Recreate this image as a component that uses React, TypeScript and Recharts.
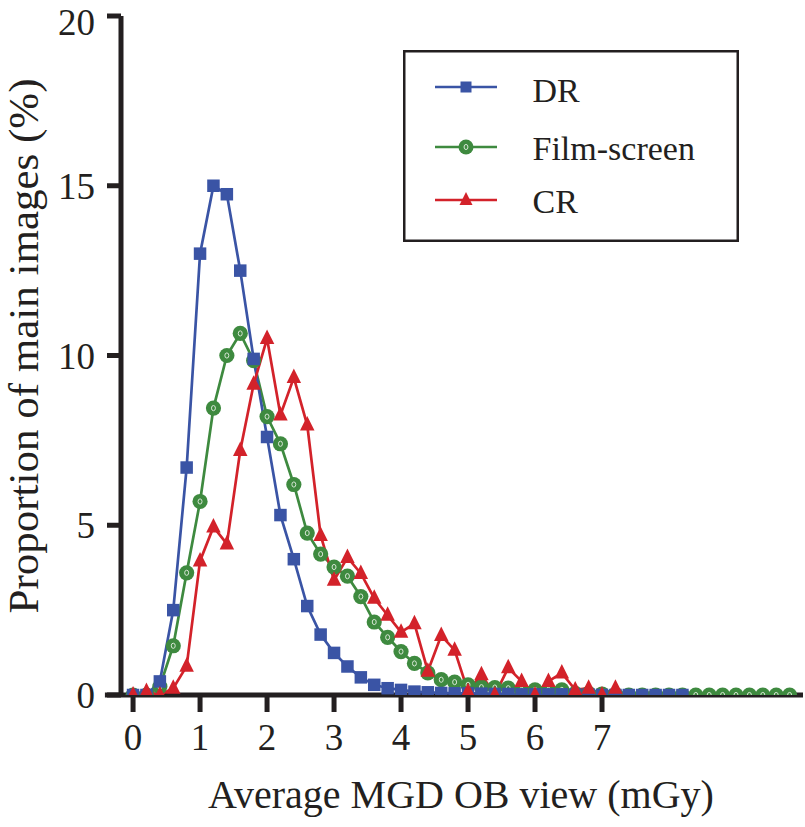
import React from 'react';
import { LineChart, Line, XAxis, YAxis, ReferenceLine, Legend } from 'recharts';

const doseValues = [
  0, 0.2, 0.4, 0.6, 0.8, 1.0, 1.2, 1.4, 1.6, 1.8,
  2.0, 2.2, 2.4, 2.6, 2.8, 3.0, 3.2, 3.4, 3.6, 3.8,
  4.0, 4.2, 4.4, 4.6, 4.8, 5.0, 5.2, 5.4, 5.6, 5.8,
  6.0, 6.2, 6.4, 6.6, 6.8, 7.0, 7.2, 7.4, 7.6, 7.8,
  8.0, 8.2, 8.4, 8.6, 8.8, 9.0, 9.2, 9.4, 9.6, 9.8,
];

const drValues = [
  0, 0, 0.4, 2.5, 6.7, 13.0, 15.0, 14.75, 12.5, 9.9,
  7.6, 5.3, 4.0, 2.62, 1.78, 1.24, 0.84, 0.52, 0.3, 0.2,
  0.15, 0.1, 0.08, 0.06, 0.05, 0.05, 0.04, 0.03, 0.03, 0.02,
  0.02, 0.02, 0.02, 0.01, 0.01, 0, 0, 0, 0, 0,
  0, 0, null, null, null, null, null, null, null, null,
];

const filmValues = [
  0, 0, 0.25, 1.45, 3.6, 5.7, 8.45, 10.0, 10.65, 9.85,
  8.2, 7.4, 6.2, 4.77, 4.15, 3.77, 3.5, 2.9, 2.15, 1.7,
  1.28, 0.93, 0.65, 0.45, 0.38, 0.3, 0.23, 0.22, 0.2, 0.15,
  0.15, 0.15, 0.15, 0.05, 0.05, 0.03, 0.02, 0, 0, 0,
  0, 0, 0, 0, 0, 0, 0, 0, 0, 0,
];

const crValues = [
  0, 0.1, 0, 0.2, 0.85, 3.95, 4.95, 4.45, 7.2, 9.15,
  10.5, 8.25, 9.35, 7.95, 4.7, 3.38, 4.05, 3.58, 2.85, 2.35,
  1.85, 2.1, 0.7, 1.75, 1.32, 0.1, 0.6, 0, 0.8, 0.4,
  0, 0.4, 0.65, 0.15, 0.2, 0, 0.2, null, null, null,
  null, null, null, null, null, null, null, null, null, null,
];

const seriesNames = ['DR', 'Film-screen', 'CR'];
const xTicks = [0, 1, 2, 3, 4, 5, 6, 7];
const yTicks = [0, 5, 10, 15, 20];
const xAxisTitle = 'Average MGD OB view (mGy)';
const yAxisTitle = 'Proportion of main images (%)';

const data = doseValues.map((x, i) => ({
  x,
  dr: drValues[i],
  film: filmValues[i],
  cr: crValues[i],
}));

const FONT = "'Liberation Serif', 'Times New Roman', Times, serif";
const INK = '#231f20';
const BLUE = '#3a54a5';
const GREEN = '#3e8a3f';
const RED = '#d3222a';

const squareShape = (cx: number, cy: number, s: number, key?: string) => (
  <rect key={key} x={cx - s / 2} y={cy - s / 2} width={s} height={s} fill={BLUE} />
);
const circleShape = (cx: number, cy: number, r: number, key?: string) => (
  <g key={key}>
    <circle cx={cx} cy={cy} r={r} fill={GREEN} />
    <ellipse cx={cx} cy={cy} rx={r * 0.26} ry={r * 0.34} fill="none" stroke="#d8e6d6" strokeWidth={1} />
  </g>
);
const triangleShape = (cx: number, cy: number, s: number, key?: string) => (
  <polygon
    key={key}
    points={`${cx},${cy - s * 0.62} ${cx - s / 2},${cy + s * 0.38} ${cx + s / 2},${cy + s * 0.38}`}
    fill={RED}
  />
);

const renderSquare = (p: any) => {
  const key = `dr-${p.index}`;
  if (p.cx == null || p.cy == null || p.value == null) return <g key={key} />;
  return squareShape(p.cx, p.cy, 12.5, key);
};
const renderCircle = (p: any) => {
  const key = `film-${p.index}`;
  if (p.cx == null || p.cy == null || p.value == null) return <g key={key} />;
  return circleShape(p.cx, p.cy, 7.6, key);
};
const renderTriangle = (p: any) => {
  const key = `cr-${p.index}`;
  if (p.cx == null || p.cy == null || p.value == null) return <g key={key} />;
  return triangleShape(p.cx, p.cy, 14.5, key);
};

const legendRows = [
  { name: seriesNames[0], color: BLUE, marker: (cx: number, cy: number) => squareShape(cx, cy, 11) },
  { name: seriesNames[1], color: GREEN, marker: (cx: number, cy: number) => circleShape(cx, cy, 7.5) },
  { name: seriesNames[2], color: RED, marker: (cx: number, cy: number) => triangleShape(cx, cy, 13) },
];
const legendMarkerCenters = [37, 97, 150];
const legendBaselines = [52, 110, 163];

const renderLegend = () => (
  <svg width={336} height={192} style={{ display: 'block' }}>
    <rect x={1.25} y={1.25} width={333.5} height={189.5} fill="#fff" stroke={INK} strokeWidth={2.5} />
    {legendRows.map((r, i) => (
      <g key={r.name}>
        <line x1={32} y1={legendMarkerCenters[i]} x2={94} y2={legendMarkerCenters[i]} stroke={r.color} strokeWidth={2.5} />
        {r.marker(63, legendMarkerCenters[i])}
        <text x={129.5} y={legendBaselines[i]} fontSize={34} fontFamily={FONT} fill={INK}>
          {r.name}
        </text>
      </g>
    ))}
  </svg>
);

const renderXTitle = (props: any) => {
  const vb = props.viewBox || { x: 121, y: 695, width: 682, height: 60 };
  return (
    <text x={vb.x + vb.width / 2 - 1} y={808} textAnchor="middle" fontSize={40} fontFamily={FONT} fill={INK}>
      {xAxisTitle}
    </text>
  );
};

const renderYTitle = () => (
  <text
    x={38}
    y={346}
    transform="rotate(-90 38 346)"
    textAnchor="middle"
    fontSize={43}
    fontFamily={FONT}
    fill={INK}
  >
    {yAxisTitle}
  </text>
);

export default function App() {
  return (
    <div style={{ position: 'absolute', left: 0, top: 0, width: 805, height: 827, background: '#fff', fontFamily: FONT }}>
      <LineChart width={805} height={827} data={data} margin={{ top: 16, right: 2, bottom: 72, left: 21 }}>
        <ReferenceLine
          segment={[{ x: -0.42, y: 0 }, { x: 10, y: 0 }]}
          stroke={INK}
          strokeWidth={5}
          ifOverflow="visible"
        />
        <XAxis
          dataKey="x"
          type="number"
          domain={[-0.18, 10]}
          ticks={xTicks}
          allowDataOverflow
          axisLine={false}
          tickLine={{ stroke: INK, strokeWidth: 5 }}
          tickSize={17}
          tickMargin={12}
          tick={{ fontSize: 37, fill: INK, fontFamily: FONT }}
          height={60}
          label={renderXTitle}
        />
        <YAxis
          type="number"
          domain={[0, 20]}
          ticks={yTicks}
          allowDataOverflow
          axisLine={{ stroke: INK, strokeWidth: 5 }}
          tickLine={{ stroke: INK, strokeWidth: 5 }}
          tickSize={14}
          tickMargin={12}
          tick={{ fontSize: 37, fill: INK, fontFamily: FONT }}
          width={100}
          label={renderYTitle}
        />
        <Line
          dataKey="film"
          stroke={GREEN}
          strokeWidth={2.7}
          dot={renderCircle}
          activeDot={false}
          isAnimationActive={false}
          connectNulls={false}
        />
        <Line
          dataKey="dr"
          stroke={BLUE}
          strokeWidth={2.7}
          dot={renderSquare}
          activeDot={false}
          isAnimationActive={false}
          connectNulls={false}
        />
        <Line
          dataKey="cr"
          stroke={RED}
          strokeWidth={2.7}
          dot={renderTriangle}
          activeDot={false}
          isAnimationActive={false}
          connectNulls={false}
        />
        <Legend
          layout="vertical"
          align="center"
          verticalAlign="middle"
          wrapperStyle={{ left: 403, top: 50, width: 336, height: 192 }}
          content={renderLegend}
        />
      </LineChart>
    </div>
  );
}
